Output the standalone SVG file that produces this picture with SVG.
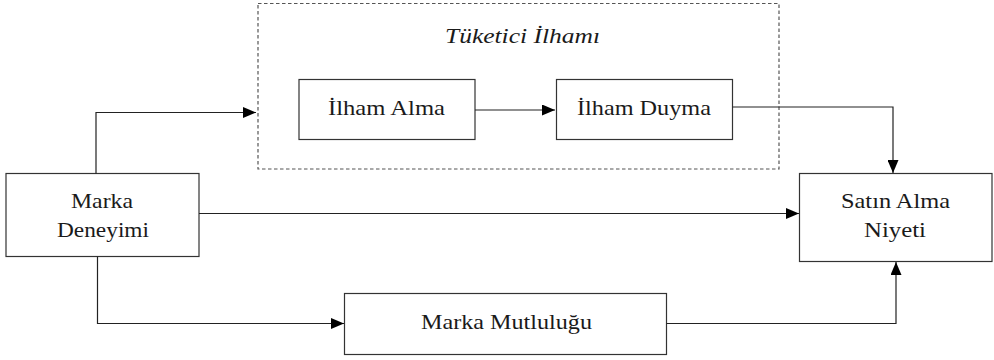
<svg xmlns="http://www.w3.org/2000/svg" width="994" height="360" viewBox="0 0 994 360">
<style>
.box{fill:#fff;stroke:#333;stroke-width:1.2}
.t{font-family:'Liberation Serif','Times New Roman',serif;font-size:21px;fill:#1a1a1a}
.it{font-style:italic}
.ln{fill:none;stroke:#222;stroke-width:1.2}
</style>
<defs>
<marker id="ah" markerUnits="userSpaceOnUse" markerWidth="13" markerHeight="11" refX="13" refY="5.5" orient="auto">
<path d="M0,0 L13,5.5 L0,11 z" fill="#000"/>
</marker>
</defs>
<rect width="994" height="360" fill="#fff"/>
<g id="tuketici-ilhami">
<rect x="258" y="3.5" width="521" height="165.5" fill="none" stroke="#555" stroke-width="1.2" stroke-dasharray="3.5,2.5"/>
<text class="t it" x="445" y="43" textLength="155" lengthAdjust="spacingAndGlyphs">Tüketici İlhamı</text>
</g>
<g id="ilham-alma">
<rect class="box" x="299" y="79.5" width="176" height="60"/>
<text class="t" x="328" y="115" textLength="117" lengthAdjust="spacingAndGlyphs">İlham Alma</text>
</g>
<g id="ilham-duyma">
<rect class="box" x="556.5" y="79.5" width="176" height="60"/>
<text class="t" x="577" y="115" textLength="134" lengthAdjust="spacingAndGlyphs">İlham Duyma</text>
</g>
<g id="marka-deneyimi">
<rect class="box" x="6" y="173.5" width="193" height="83"/>
<text class="t" x="71" y="207.5" textLength="62" lengthAdjust="spacingAndGlyphs">Marka</text>
<text class="t" x="57" y="236.5" textLength="92" lengthAdjust="spacingAndGlyphs">Deneyimi</text>
</g>
<g id="satin-alma-niyeti">
<rect class="box" x="799.5" y="173.5" width="192.5" height="88"/>
<text class="t" x="841" y="208" textLength="109" lengthAdjust="spacingAndGlyphs">Satın Alma</text>
<text class="t" x="864" y="236.5" textLength="62" lengthAdjust="spacingAndGlyphs">Niyeti</text>
</g>
<g id="marka-mutlulugu">
<rect class="box" x="344.5" y="293.5" width="322" height="61"/>
<text class="t" x="421" y="329" textLength="171" lengthAdjust="spacingAndGlyphs">Marka Mutluluğu</text>
</g>
<g id="connectors">
<path class="ln" d="M96,173.5 V112.5 H256" marker-end="url(#ah)"/>
<path class="ln" d="M475,110 H555" marker-end="url(#ah)"/>
<path class="ln" d="M732.5,107 H893 V173" marker-end="url(#ah)"/>
<path class="ln" d="M199,213.5 H799" marker-end="url(#ah)"/>
<path class="ln" d="M97.5,256.5 V323.5 H344" marker-end="url(#ah)"/>
<path class="ln" d="M666.5,323.5 H896 V262" marker-end="url(#ah)"/>
</g>
</svg>
